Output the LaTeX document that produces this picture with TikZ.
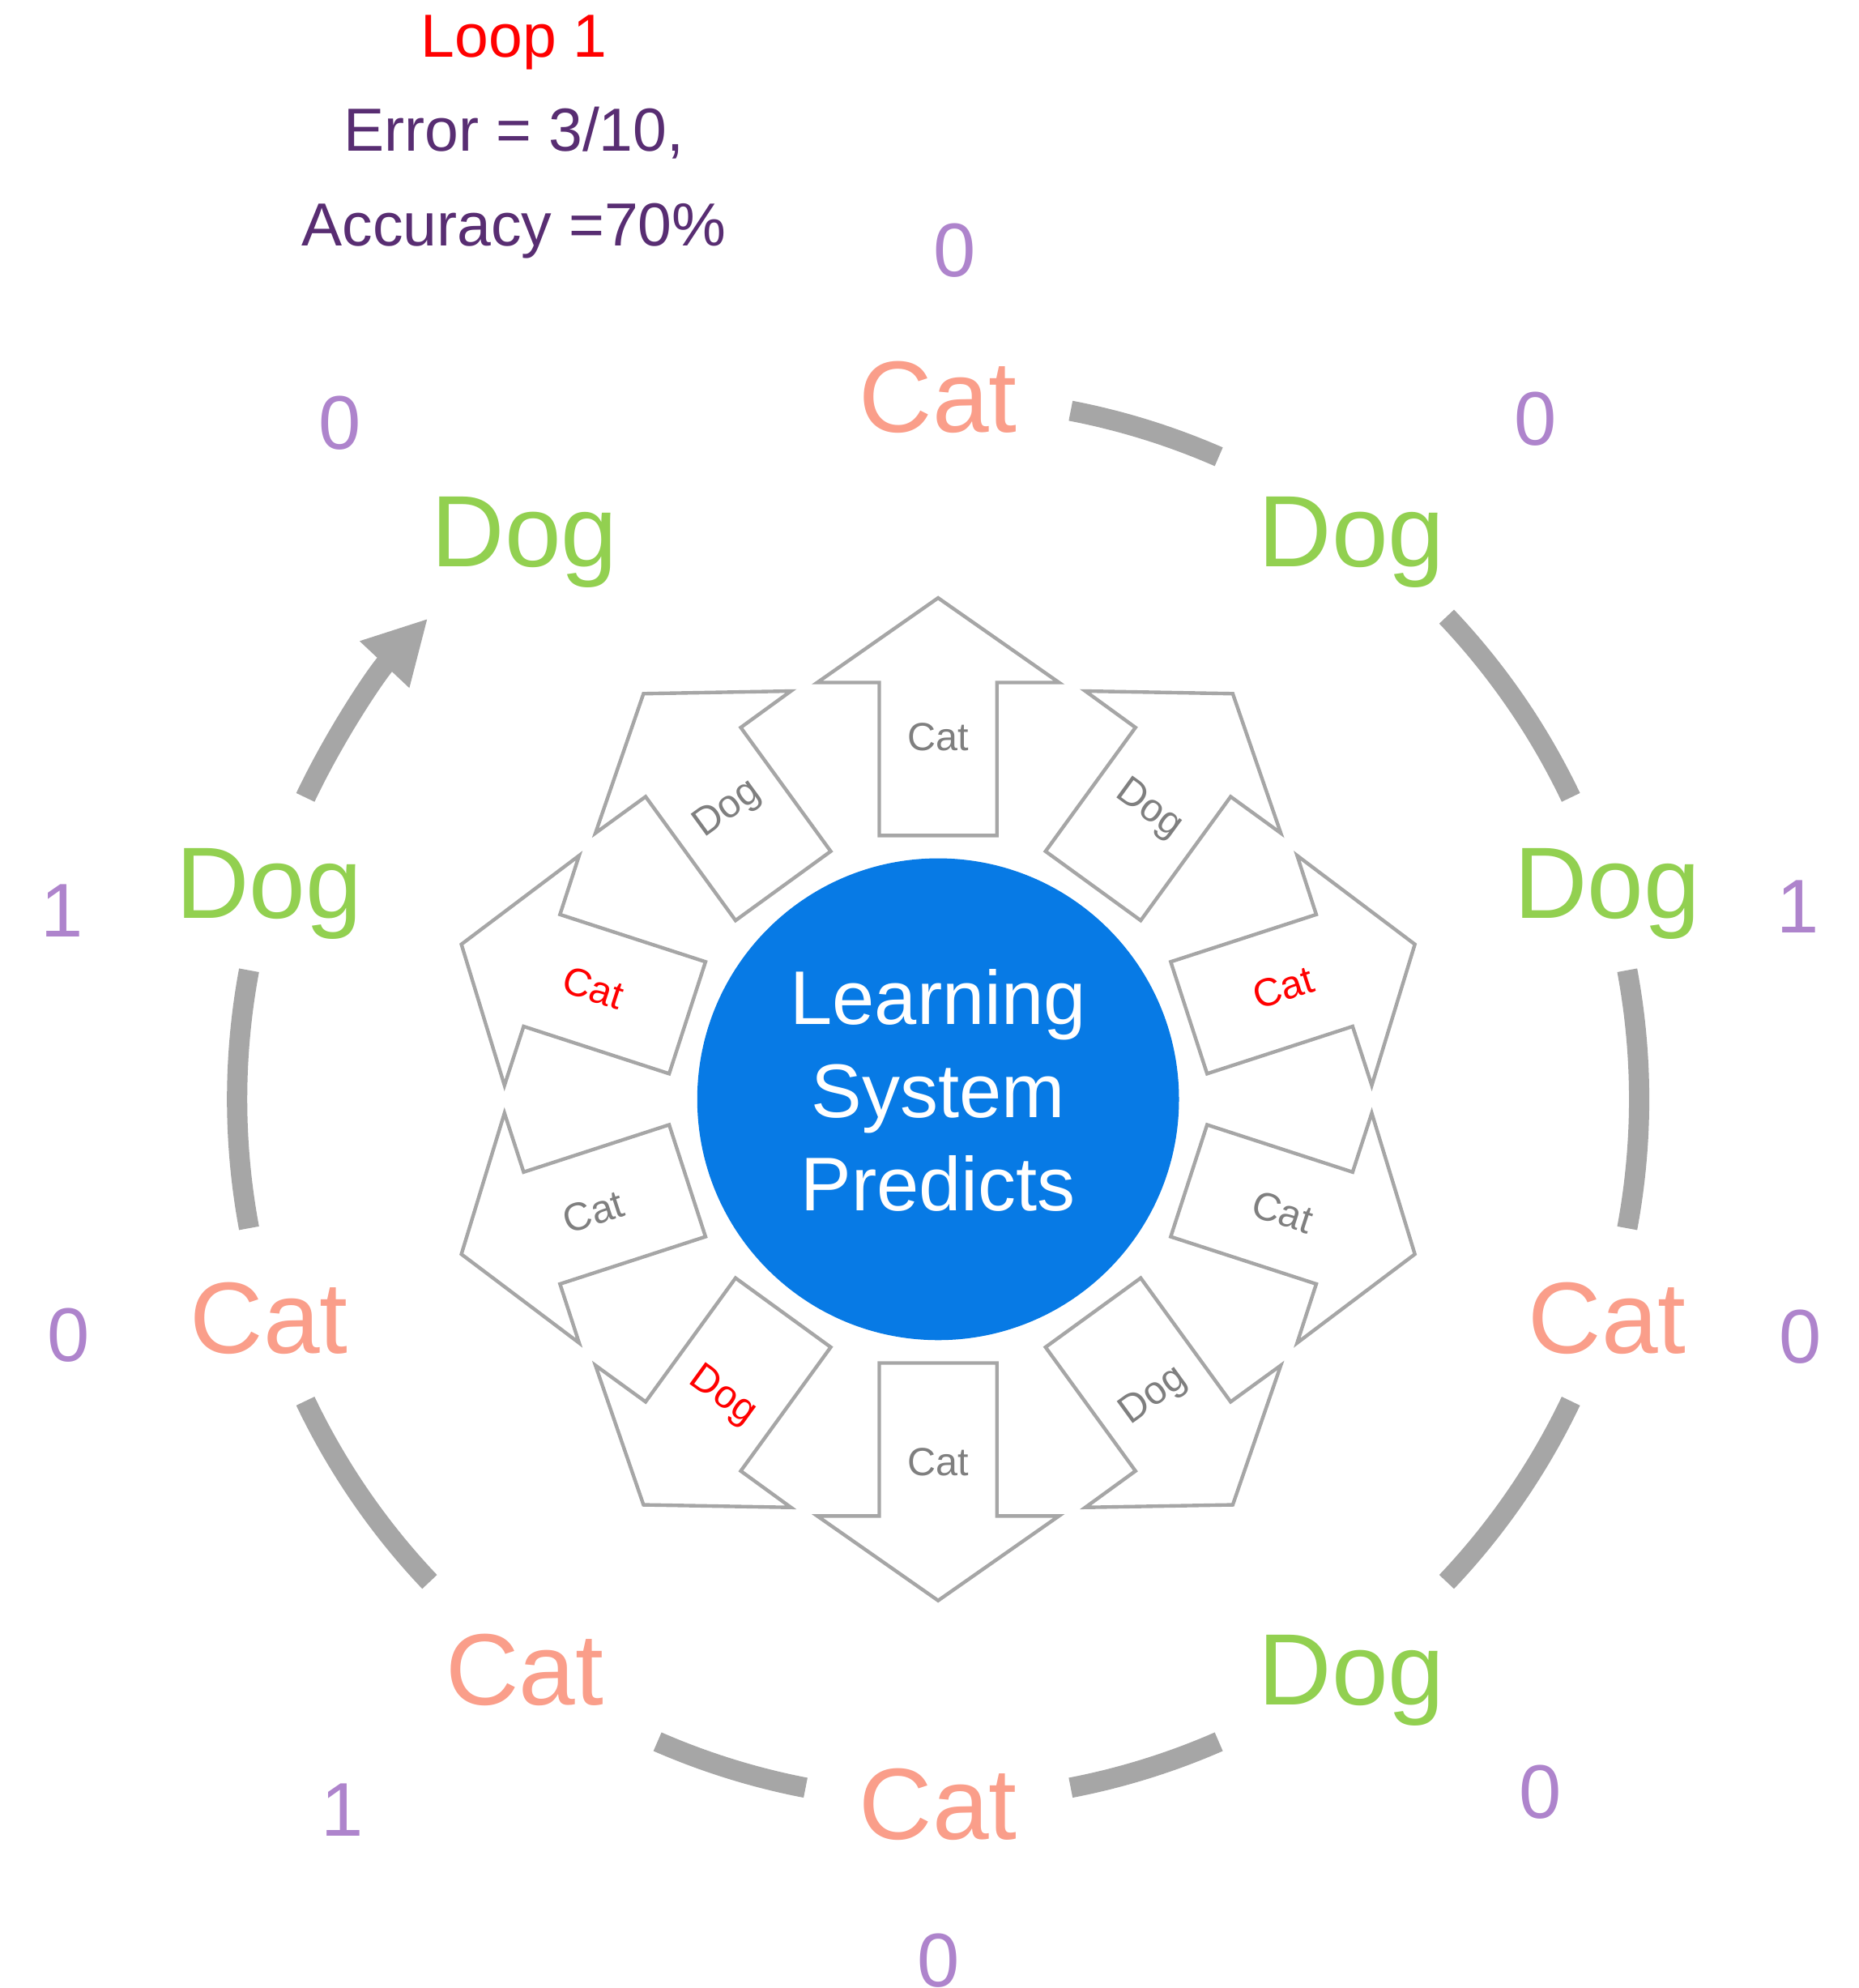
\documentclass[tikz,border=0pt]{standalone}
\usepackage{fontspec}
\setmainfont{Liberation Sans}
\usetikzlibrary{arrows.meta,calc}
\definecolor{salmon}{RGB}{250,158,138}
\definecolor{dgreen}{RGB}{146,208,80}
\definecolor{npurple}{RGB}{174,132,204}
\definecolor{hpurple}{RGB}{88,45,114}
\definecolor{cblue}{RGB}{7,122,229}
\definecolor{agray}{RGB}{166,166,166}
\definecolor{lgray}{RGB}{127,127,127}
\begin{document}
\begin{tikzpicture}[x=1pt,y=1pt,
  biglabel/.style={font=\fontsize{80}{96}\selectfont, inner sep=0pt, text height=57.3pt, text depth=0pt},
  numlabel/.style={font=\fontsize{60}{72}\selectfont, inner sep=0pt, text=npurple, anchor=base},
  headlabel/.style={font=\fontsize{48}{58}\selectfont, inner sep=0pt, anchor=base},
  smalllabel/.style={font=\fontsize{31}{37}\selectfont, inner sep=0pt, text height=22.2pt, text depth=0pt},
  blockarrow/.style={draw=agray, line width=2.8pt, fill=white, line join=miter},
  looparc/.style={draw=agray, line width=16pt}
]
\useasboundingbox (0,0) rectangle (1466,-1568);
\fill[white] (0,0) rectangle (1466,-1568);

% header
\node[headlabel, text=red] (h1) at (405.5,-45) {Loop 1};
\node[headlabel, text=hpurple] (h2) at (405.5,-119) {Error = 3/10,};
\node[headlabel, text=hpurple] (h3) at (405.5,-194) {Accuracy =70\%};

% centre
\node[circle, fill=cblue, minimum size=380pt, inner sep=0pt] (c) at (740,-867) {};
\node[text=white, align=center, inner sep=0pt, font=\fontsize{60}{73.3}\selectfont] (ct) at ($(c.center)+(0,7)$) {Learning\\System\\Predicts};

% block arrows with predictions
\foreach \a/\t/\r/\col [count=\i] in {90/Cat/0/lgray, 54/Dog/-36/lgray, 18/Cat/18/red, -18/Cat/-18/lgray, -54/Dog/36/lgray, -90/Cat/0/lgray, -126/Dog/-36/red, -162/Cat/18/lgray, 162/Cat/-18/red, 126/Dog/36/lgray}{
  \begin{scope}[shift={(c.center)}, rotate=\a]
    \draw[blockarrow] (208,-46.4) -- (328.7,-46.4) -- (328.7,-95.3) -- (395.4,0) -- (328.7,95.3) -- (328.7,46.4) -- (208,46.4) -- cycle;
    \node[smalllabel, text=\col, rotate=\r] (p\i) at (286,0) {\t};
  \end{scope}
}

% outer labels
\foreach \a/\t/\col [count=\i] in {90/Cat/salmon, 54/Dog/dgreen, 18/Dog/dgreen, -18/Cat/salmon, -54/Dog/dgreen, -90/Cat/salmon, -126/Cat/salmon, -162/Cat/salmon, 162/Dog/dgreen, 126/Dog/dgreen}{
  \node[biglabel, text=\col] (o\i) at ($(c.center)+(\a:555)$) {\t};
}

% numbers
\node[numlabel] (n1) at (753,-218) {0};
\node[numlabel] (n2) at (1211,-351) {0};
\node[numlabel] (n3) at (1418,-736) {1};
\node[numlabel] (n4) at (1420,-1075) {0};
\node[numlabel] (n5) at (1215,-1434) {0};
\node[numlabel] (n6) at (740,-1567) {0};
\node[numlabel] (n7) at (270,-1448) {1};
\node[numlabel] (n8) at (54,-1074) {0};
\node[numlabel] (n9) at (49,-739) {1};
\node[numlabel] (n10) at (268,-354) {0};

% loop arcs
\draw[looparc] ($(c.center)+(79.1:553)$) arc[start angle=79.1, end angle=66.4, radius=553];
\draw[looparc] ($(c.center)+(43.5:553)$) arc[start angle=43.5, end angle=25.5, radius=553];
\draw[looparc] ($(c.center)+(10.6:553)$) arc[start angle=10.6, end angle=-10.6, radius=553];
\draw[looparc] ($(c.center)+(-25.5:553)$) arc[start angle=-25.5, end angle=-43.5, radius=553];
\draw[looparc] ($(c.center)+(-66.4:553)$) arc[start angle=-66.4, end angle=-79.1, radius=553];
\draw[looparc] ($(c.center)+(-100.9:553)$) arc[start angle=-100.9, end angle=-113.6, radius=553];
\draw[looparc] ($(c.center)+(-136.5:553)$) arc[start angle=-136.5, end angle=-154.5, radius=553];
\draw[looparc] ($(c.center)+(-169.4:553)$) arc[start angle=-169.4, end angle=-190.6, radius=553];
\draw[looparc, -{Triangle[length=50pt,width=50pt]}] ($(c.center)+(154.5:553)$) arc[start angle=154.5, end angle=136.7, radius=553];
\end{tikzpicture}
\end{document}
